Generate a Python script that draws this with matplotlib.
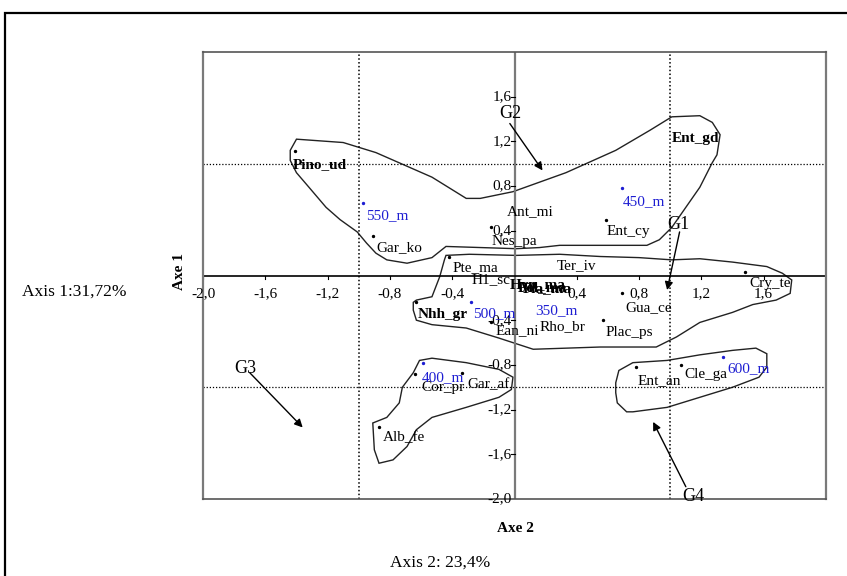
"""
Ordination plot (Axe 1 / Axe 2) with species, altitude sites and
hand-drawn group envelopes G1-G4.
"""

import matplotlib
matplotlib.use("Agg")
import matplotlib.pyplot as plt
from matplotlib.patches import Rectangle, Polygon

plt.rcParams["font.family"] = ["Liberation Serif", "DejaVu Serif"]

# species labels: name, label position, dot position (None = no dot seen)
species_names = ["Pino_ud", "Ent_gd", "Gar_ko", "Ent_cy", "Ant_mi", "Nes_pa",
                 "Pte_ma", "Ter_iv", "H1_sc", "Cry_te", "Gua_ce", "Nhh_gr",
                 "Ean_ni", "Rho_br", "Plac_ps", "Ent_an", "Cle_ga", "Cor_pr",
                 "Gar_af", "Alb_fe"]
species_x = [-1.25, 1.16, -0.74, 0.73, 0.10, 0.00, -0.25, 0.40, -0.15, 1.64,
             0.86, -0.46, 0.02, 0.31, 0.74, 0.93, 1.23, -0.46, -0.17, -0.71]
species_y = [0.99, 1.23, 0.25, 0.39, 0.57, 0.30, 0.07, 0.09, -0.04, -0.07,
             -0.29, -0.35, -0.49, -0.46, -0.51, -0.94, -0.89, -1.00, -0.98, -1.45]
species_bold = ["Pino_ud", "Ent_gd", "Nhh_gr"]
species_dot_x = [-1.41, -0.91, 0.59, -0.15, -0.42, 1.48, 0.69, -0.63, -0.15,
                 0.57, 0.78, 1.07, -0.64, -0.34, -0.87]
species_dot_y = [1.11, 0.35, 0.50, 0.43, 0.17, 0.03, -0.16, -0.24, -0.42,
                 -0.40, -0.82, -0.80, -0.88, -0.87, -1.36]

# overprinted cluster near the origin
blob_names = ["Hyp_ma", "Pol_ma", "Pla_ma"]
blob_x = [0.15, 0.18, 0.21]
blob_y = [-0.09, -0.11, -0.12]

# altitude sites (blue)
site_names = ["550_m", "450_m", "500_m", "350_m", "600_m", "400_m"]
site_x = [-0.82, 0.83, -0.13, 0.27, 1.50, -0.46]
site_y = [0.54, 0.66, -0.34, -0.31, -0.83, -0.91]
site_dot_x = [-0.97, 0.69, -0.28, 1.34, -0.59]
site_dot_y = [0.65, 0.78, -0.24, -0.73, -0.78]

# group envelopes
g2_x = [-1.40, -1.10, -0.89, -0.53, -0.31, -0.22, -0.01, 0.33, 0.65, 0.87, 1.01,
        1.19, 1.27, 1.32, 1.30, 1.27, 1.19, 1.10, 1.01, 0.93, 0.85, 0.29, 0.16,
        0.01, -0.44, -0.53, -0.69, -0.82, -0.89, -0.95, -1.01, -1.12, -1.21,
        -1.32, -1.40, -1.44, -1.44]
g2_y = [1.22, 1.19, 1.10, 0.88, 0.69, 0.69, 0.75, 0.92, 1.12, 1.30, 1.42,
        1.43, 1.37, 1.26, 1.08, 1.01, 0.79, 0.61, 0.43, 0.32, 0.27, 0.27, 0.25,
        0.24, 0.26, 0.16, 0.11, 0.14, 0.20, 0.29, 0.39, 0.50, 0.61,
        0.79, 0.92, 1.03, 1.12]
g1_x = [-0.44, -0.29, 0.01, 0.29, 0.55, 0.80, 1.01, 1.19, 1.40, 1.62, 1.72,
        1.78, 1.77, 1.68, 1.53, 1.40, 1.19, 1.04, 0.91, 0.55, 0.12, -0.10,
        -0.31, -0.53, -0.63, -0.65, -0.65, -0.63, -0.53, -0.48, -0.45]
g1_y = [0.18, 0.19, 0.18, 0.19, 0.17, 0.16, 0.14, 0.15, 0.12, 0.08, 0.02,
        -0.04, -0.16, -0.22, -0.26, -0.33, -0.42, -0.55, -0.64, -0.64, -0.66, -0.56,
        -0.47, -0.44, -0.40, -0.31, -0.24, -0.22, -0.19, -0.01, 0.14]
g3_x = [-0.61, -0.53, -0.31, -0.10, -0.01, -0.02, -0.10, -0.31, -0.53, -0.63,
        -0.69, -0.78, -0.87, -0.90, -0.91, -0.82, -0.74, -0.72, -0.65]
g3_y = [-0.76, -0.74, -0.78, -0.84, -0.91, -1.02, -1.09, -1.18, -1.27, -1.38,
        -1.53, -1.65, -1.68, -1.56, -1.32, -1.27, -1.14, -1.00, -0.87]
g4_x = [0.65, 0.67, 0.76, 0.98, 1.19, 1.40, 1.55, 1.62, 1.62, 1.57, 1.40,
        1.19, 0.98, 0.76, 0.72, 0.66, 0.65]
g4_y = [-0.96, -0.85, -0.78, -0.76, -0.71, -0.67, -0.65, -0.70, -0.82, -0.91,
        -1.00, -1.09, -1.18, -1.22, -1.22, -1.14, -1.05]

# group labels and their arrows (text position, arrow start -> arrow end)
group_names = ["G1", "G2", "G3", "G4"]
group_x = [1.05, -0.03, -1.73, 1.15]
group_y = [0.46, 1.45, -0.83, -1.98]
arrow_x0 = [1.06, -0.03, -1.70, 1.10]
arrow_y0 = [0.39, 1.36, -0.87, -1.89]
arrow_x1 = [0.98, 0.18, -1.36, 0.89]
arrow_y1 = [-0.13, 0.94, -1.36, -1.31]

tick_values = [-2.0, -1.6, -1.2, -0.8, -0.4, 0.4, 0.8, 1.2, 1.6]
grid_values = [-1.0, 1.0]

BLUE = "#1e1ed2"
LABEL_SIZE = 11

fig = plt.figure(figsize=(8.47, 5.76), dpi=100)

# outer frame of the scanned page
fig.patches.append(Rectangle((0.0055, -0.05), 1.05, 1.028, transform=fig.transFigure,
                             fill=False, edgecolor="black", linewidth=1.6))

ax = fig.add_axes([0.2397, 0.1337, 0.7355, 0.776])
ax.set_xlim(-2, 2)
ax.set_ylim(-2, 2)
ax.set_xticks([])
ax.set_yticks([])
for side in ["left", "right"]:
    ax.spines[side].set_color("#7a7a7a")
    ax.spines[side].set_linewidth(1.6)
for side in ["top", "bottom"]:
    ax.spines[side].set_color("#555555")
    ax.spines[side].set_linewidth(1.2)
    ax.spines[side].set_linestyle((0, (2, 1)))

for v in grid_values:
    ax.axvline(v, color="black", linestyle=(0, (1, 1.5)), linewidth=1.1)
    ax.axhline(v, color="black", linestyle=(0, (1, 1.5)), linewidth=0.9)
ax.axvline(0, color="#7a7a7a", linewidth=1.6)
ax.axhline(0, color="black", linewidth=1.2)

# tick marks and labels along the central axes
for v in tick_values:
    lab = f"{v:.1f}".replace(".", ",")
    ax.plot([v, v], [0, -0.03], color="black", linewidth=0.8)
    ax.text(v, -0.16, lab, ha="center", va="center", fontsize=11)
    ax.plot([0, -0.025], [v, v], color="black", linewidth=0.8)
    ax.text(-0.02, v, lab, ha="right", va="center", fontsize=11)

# envelopes
for hx, hy in [(g1_x, g1_y), (g2_x, g2_y), (g3_x, g3_y), (g4_x, g4_y)]:
    ax.add_patch(Polygon(list(zip(hx, hy)), closed=True, fill=False,
                         edgecolor="#222222", linewidth=1.0))

ax.scatter(species_dot_x, species_dot_y, s=2, color="black", zorder=3)
ax.scatter(site_dot_x, site_dot_y, s=2, color=BLUE, zorder=3)

for name, x, y in zip(species_names, species_x, species_y):
    w = "bold" if name in species_bold else "normal"
    ax.text(x, y, name, ha="center", va="center", fontsize=LABEL_SIZE, fontweight=w)
for name, x, y in zip(blob_names, blob_x, blob_y):
    ax.text(x, y, name, ha="center", va="center", fontsize=LABEL_SIZE, fontweight="bold")
for name, x, y in zip(site_names, site_x, site_y):
    ax.text(x, y, name, ha="center", va="center", fontsize=LABEL_SIZE, color=BLUE)

for i, g in enumerate(group_names):
    ax.text(group_x[i], group_y[i], g, ha="center", va="center", fontsize=13)
    ax.annotate("", xy=(arrow_x1[i], arrow_y1[i]), xytext=(arrow_x0[i], arrow_y0[i]),
                arrowprops=dict(arrowstyle="-|>", color="black", lw=1.0,
                                mutation_scale=12, shrinkA=0, shrinkB=0))

fig.text(0.2125, 0.528, "Axe 1", rotation=90, ha="center", va="center",
         fontsize=11, fontweight="bold")
fig.text(0.608, 0.083, "Axe 2", ha="center", va="center", fontsize=11, fontweight="bold")
fig.text(0.026, 0.493, "Axis 1:31,72%", ha="left", va="center", fontsize=12.5)
fig.text(0.46, 0.024, "Axis 2: 23,4%", ha="left", va="center", fontsize=12.5)

fig.savefig("out.png", dpi=100)
